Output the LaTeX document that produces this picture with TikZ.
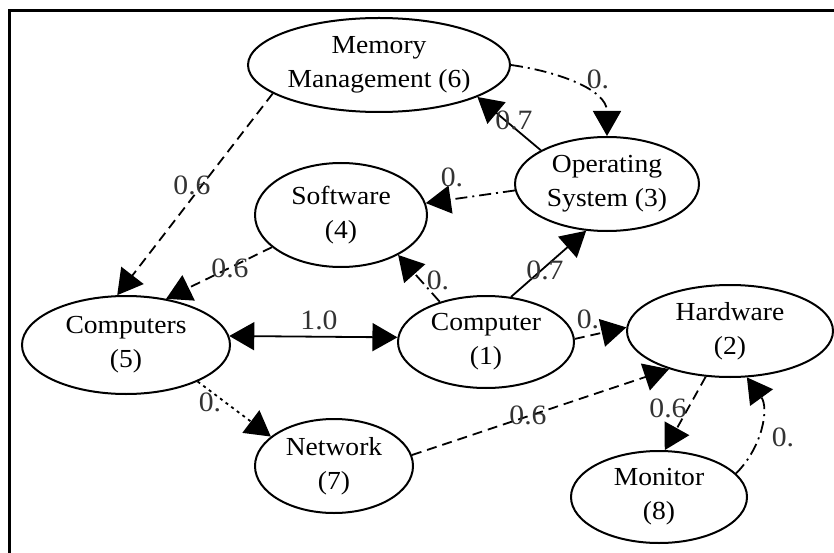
\documentclass[tikz,border=0pt]{standalone}
\usepackage{fontspec}
\setmainfont{Liberation Serif}[FakeStretch=1.06]
\usetikzlibrary{arrows.meta,shapes.geometric}
\begin{document}
\begin{tikzpicture}[x=1pt,y=-1pt,
  concept/.style={ellipse,draw,line width=2pt,inner sep=0pt,align=center,
    font=\fontsize{26}{34}\selectfont},
  tip/.style={},
  link/.style={line width=1.8pt,-{Triangle[length=25pt,width=28pt]}},
  dashedlink/.style={link,dash pattern=on 10pt off 6pt},
  dashdotlink/.style={link,dash pattern=on 12pt off 5pt on 2pt off 5pt},
  dottedlink/.style={link,dash pattern=on 3pt off 4pt},
  weight/.style={inner sep=0pt,text=black!80,font=\fontsize{28}{30}\selectfont}]
\useasboundingbox (0,0) rectangle (834,553);
% frame
\draw[line width=3pt] (9.5,553) -- (9.5,11) -- (834,11);

% concepts
\node[concept,minimum width=262pt,minimum height=94pt] (mem) at (379,65) {Memory\\Management (6)};
\node[concept,minimum width=184pt,minimum height=94pt] (os)  at (607,184) {Operating\\System (3)};
\node[concept,minimum width=172pt,minimum height=104pt] (sw) at (341,215) {Software\\(4)};
\node[concept,minimum width=208pt,minimum height=98pt] (cmp) at (126,345) {Computers\\(5)};
\node[concept,minimum width=176pt,minimum height=92pt] (c1) at (486,342) {Computer\\(1)};
\node[concept,minimum width=206pt,minimum height=92pt] (hw) at (730,331) {Hardware\\(2)};
\node[concept,minimum width=158pt,minimum height=94pt] (nw) at (334,466) {Network\\(7)};
\node[concept,minimum width=176pt,minimum height=92pt] (mon) at (659,497) {Monitor\\(8)};

% links
\draw[dashdotlink] (mem.east) to[out=-8,in=90] (os.north);
\node[weight] (w1) at (598,79) {0.};

\draw[link] (os.153) -- (mem.-18);
\node[weight] (w2) at (514,120) {0.7};

\draw[dashdotlink] (os.184) -- (sw.8);
\node[weight] (w3) at (452,177) {0.};

\draw[dashedlink] (mem.195) -- (cmp.100);
\node[weight] (w4) at (192,185) {0.6};

\draw[dashedlink] (sw.205) -- (cmp.49);
\node[weight] (w5) at (230,268) {0.6};

\draw[link,{Triangle[length=25pt,width=28pt]}-{Triangle[length=25pt,width=28pt]}] (cmp.5) -- (c1.177);
\node[weight] (w6) at (319,320) {1.0};

\draw[dashdotlink] (c1.139) -- (sw.-35);
\node[weight] (w7) at (438,280) {0.};

\draw[link] (c1.61) -- (os.-114);
\node[weight] (w8) at (545,270) {0.7};

\draw[dashedlink] (c1.2) -- (hw.178);
\node[weight] (w9) at (588,319) {0.};

\draw[dashedlink] (nw.8) -- (hw.212);
\node[weight] (w10) at (528,415) {0.6};

\draw[dashedlink] (hw.-118) -- (mon.83);
\node[weight] (w11) at (668,408) {0.6};

\draw[dashdotlink] (mon.17) to[out=45,in=-54] (hw.-70);
\node[weight] (w12) at (783,437) {0.};

\draw[dottedlink] (cmp.-27) -- (nw.155);
\node[weight] (w13) at (210,402) {0.};
\end{tikzpicture}
\end{document}
